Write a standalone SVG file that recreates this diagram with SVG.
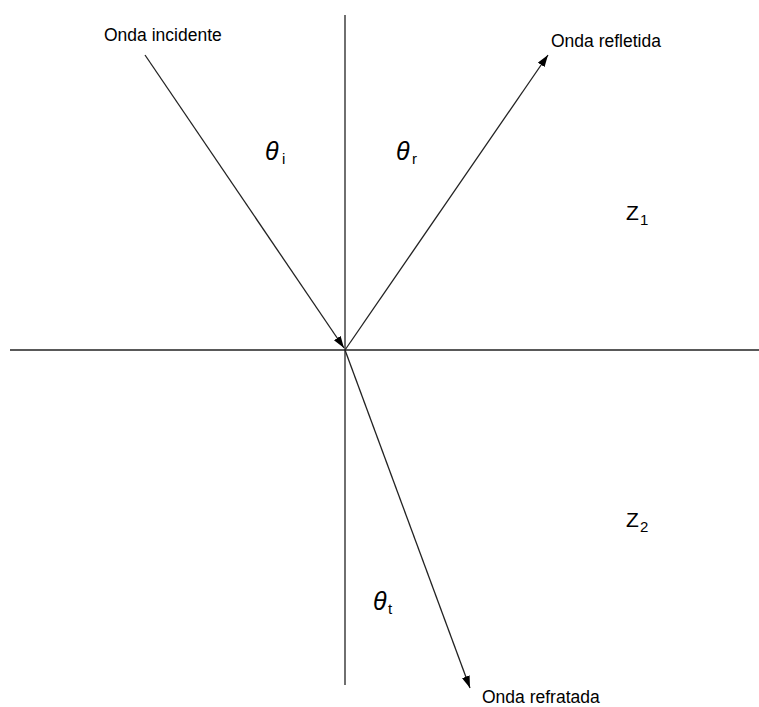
<svg xmlns="http://www.w3.org/2000/svg" width="759" height="707" viewBox="0 0 759 707">
<defs>
<marker id="arr" viewBox="0 0 12 8" refX="12" refY="4" markerWidth="12" markerHeight="8" markerUnits="userSpaceOnUse" orient="auto">
<path d="M0,0 L12,4 L0,8 Z" fill="#000"/>
</marker>
</defs>
<style>
.ln{stroke:#222;stroke-width:1.3;fill:none}
.lbl{font-family:"Liberation Sans",Arial,sans-serif;font-size:17.5px;fill:#000}
.th{font-family:"Liberation Sans",Arial,sans-serif;font-style:italic;font-size:25px;fill:#000}
.z{font-family:"Liberation Sans",Arial,sans-serif;font-size:21px;fill:#000}
.sub{font-family:"Liberation Sans",Arial,sans-serif;font-size:15px;fill:#000}
</style>
<rect width="759" height="707" fill="#fff"/>
<g id="axes">
<line class="ln" x1="345" y1="15" x2="345" y2="685"/>
<line class="ln" x1="10" y1="350" x2="759" y2="350"/>
</g>
<g id="connectors">
<line class="ln" x1="145" y1="55" x2="344" y2="348" marker-end="url(#arr)"/>
<line class="ln" x1="345" y1="350" x2="548" y2="55" marker-end="url(#arr)"/>
<line class="ln" x1="345" y1="350" x2="470" y2="688" marker-end="url(#arr)"/>
</g>
<g id="incident"><text class="lbl" x="104" y="41">Onda incidente</text></g>
<g id="reflected"><text class="lbl" x="551" y="47">Onda refletida</text></g>
<g id="refracted"><text class="lbl" x="482" y="703">Onda refratada</text></g>
<g id="theta-i"><text class="th" x="265" y="160">θ</text><text class="sub" x="282" y="164">i</text></g>
<g id="theta-r"><text class="th" x="396" y="160">θ</text><text class="sub" x="412" y="164">r</text></g>
<g id="theta-t"><text class="th" x="373" y="610">θ</text><text class="sub" x="388" y="614">t</text></g>
<g id="z1"><text class="z" x="626" y="220">Z</text><text class="sub" x="640" y="225">1</text></g>
<g id="z2"><text class="z" x="626" y="527">Z</text><text class="sub" x="640" y="532">2</text></g>
</svg>
